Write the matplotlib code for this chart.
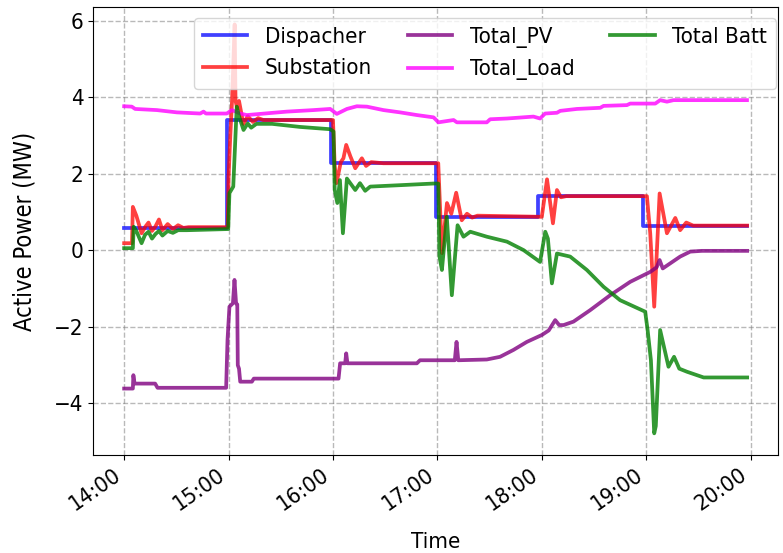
import pandas as pd
import matplotlib
matplotlib.use("Agg")
import matplotlib.pyplot as plt
import matplotlib.dates as mdates

# minutes after 14:00 and power values (MW)
disp_t = [0, 59, 119, 179, 238, 298, 358]
disp_v = [0.58, 3.40, 2.27, 0.87, 1.41, 0.64, 0.64]

sub_t = [0, 4.5, 5, 7, 10, 12, 14, 16, 18, 20, 22, 25, 28, 31, 34, 37, 59.5, 60, 61, 62,
         63.5, 64, 65, 66, 68.5, 71, 74, 77, 80, 120, 121, 122, 124.5, 126, 127.6, 130, 132.8,
         136.6, 139, 142, 149, 180.5, 182.6, 185.5, 188, 190.8, 194, 197, 200, 203, 240, 243,
         246.4, 248.7, 251, 254, 300.4, 302.3, 304.6, 307.7, 311.9, 316.7, 319.5, 323, 327, 358]
sub_v = [0.18, 0.18, 1.13, 0.9, 0.44, 0.6, 0.72, 0.5, 0.62, 0.8, 0.52, 0.68, 0.55, 0.65, 0.58, 0.6, 0.6, 1.9, 3.0, 3.9,
         5.9, 3.9, 3.7, 3.9, 3.3, 3.5, 3.35, 3.45, 3.4, 3.4, 2.2, 1.75, 2.3, 2.4, 2.75, 2.45, 2.14,
         2.4, 2.2, 2.3, 2.27, 2.27, -0.08, 1.23, 0.95, 1.5, 0.78, 0.95, 0.85, 0.9, 0.87, 1.85,
         0.70, 1.57, 1.38, 1.41, 1.41, 0.44, -1.48, 1.48, 0.44, 0.84, 0.52, 0.72, 0.64, 0.64]

pv_t = [0, 5, 5.3, 6, 17.8, 19.2, 58.6, 59.4, 60.5, 62.5, 63.4, 64.3, 65, 65.3, 66, 66.7, 73.4, 74.5,
        123.2, 124.1, 127, 127.6, 128.3, 168.2, 170, 190, 191, 192, 208.4, 216, 223.7, 231.4, 240,
        244, 247.7, 250, 252.5, 258.2, 267.8, 279.3, 290.8, 302.3, 306, 307.7, 309.5, 319.5, 325.3,
        332, 358]
pv_v = [-3.62, -3.62, -3.27, -3.49, -3.49, -3.60, -3.60, -2.35, -1.48, -1.39, -0.78, -1.39, -1.42, -3.01, -3.1, -3.44, -3.44, -3.36,
        -3.36, -2.96, -2.96, -2.70, -2.96, -2.96, -2.88, -2.88, -2.40, -2.88, -2.86, -2.79, -2.61, -2.40, -2.22,
        -2.1, -1.83, -1.96, -1.96, -1.87, -1.57, -1.18, -0.83, -0.57, -0.45, -0.26, -0.48, -0.17, -0.04,
        -0.02, -0.02]

load_t = [0, 4.4, 6.3, 18.8, 30.3, 43.7, 45.6, 47, 59, 61.9, 66.7, 70.5, 85.8, 93.5, 108.8, 118.4, 122.2,
          128, 133.7, 139.5, 149, 158.6, 168.2, 177.8, 180.6, 189.3, 191.2, 208.4, 210.3, 220, 235.2,
          239, 241.9, 248.7, 250.6, 260.2, 273.6, 275.5, 288.9, 290.8, 305.2, 308, 311.9, 315.7, 357.9]
load_v = [3.76, 3.75, 3.69, 3.66, 3.60, 3.57, 3.62, 3.57, 3.57, 3.66, 3.57, 3.53, 3.59, 3.62, 3.66, 3.69, 3.56,
          3.69, 3.76, 3.75, 3.66, 3.60, 3.53, 3.47, 3.34, 3.40, 3.34, 3.34, 3.42, 3.44, 3.49,
          3.44, 3.57, 3.59, 3.64, 3.69, 3.72, 3.77, 3.79, 3.83, 3.83, 3.92, 3.88, 3.92, 3.92]

batt_t = [0, 5, 5.5, 7, 10, 12, 14, 16, 18, 20, 22, 25, 28, 31, 36, 59.8, 60.5, 62.7, 64.7, 66, 68.6,
          71, 73, 76, 85, 101, 118.4, 120.3, 121, 122.5, 124, 125.7, 128, 132.8, 135.5, 138.5, 141.4,
          160, 177.8, 180.5, 181.2, 182.6, 185.4, 188.3, 191.6, 195, 198.9, 208.4, 220, 229.5, 239,
          242, 243.5, 245.8, 248.7, 256.3, 265.9, 275.5, 285, 299.4, 300.8, 302.7, 304.6, 305.5, 308,
          312.8, 316, 319, 323.4, 333, 358]
batt_v = [0.05, 0.05, 0.61, 0.5, 0.18, 0.4, 0.48, 0.3, 0.42, 0.5, 0.38, 0.5, 0.45, 0.52, 0.52, 0.55, 1.49, 1.66, 3.75, 3.5, 3.14,
          3.31, 3.2, 3.3, 3.3, 3.22, 3.16, 3.1, 1.57, 1.23, 1.83, 0.44, 1.87, 1.57, 1.75, 1.55, 1.66,
          1.70, 1.74, 1.74, -0.17, -0.52, 0.87, -1.18, 0.65, 0.35, 0.48, 0.35, 0.22, 0.0, -0.31,
          0.48, 0.3, -0.87, -0.09, -0.17, -0.52, -0.96, -1.31, -1.61, -2.09, -2.88, -4.79, -4.6, -2.09,
          -3.05, -2.79, -3.1, -3.18, -3.33, -3.33]

base = pd.Timestamp("2023-01-01 14:00")


def to_time(minutes):
    return base + pd.to_timedelta(minutes, unit="min")


# the reference text looks squeezed sideways, so use the condensed DejaVu face
plt.rcParams["font.family"] = "DejaVu Sans"
plt.rcParams["font.stretch"] = "condensed"
plt.rcParams["font.size"] = 16

fig, ax = plt.subplots(figsize=(7.83, 5.53), dpi=100)
fig.subplots_adjust(left=0.119, right=0.994, top=0.987, bottom=0.177)

ax.plot(to_time(disp_t), disp_v, color="blue", alpha=0.75, linewidth=2.7, drawstyle="steps-post", label="Dispacher")
ax.plot(to_time(sub_t), sub_v, color="red", alpha=0.75, linewidth=2.7, label="Substation")
ax.plot(to_time(pv_t), pv_v, color="purple", alpha=0.8, linewidth=2.7, label="Total_PV")
ax.plot(to_time(load_t), load_v, color="magenta", alpha=0.8, linewidth=2.7, label="Total_Load")
ax.plot(to_time(batt_t), batt_v, color="green", alpha=0.8, linewidth=2.7, label="Total Batt")

ax.set_xlim(to_time(-17.8), to_time(375.9))
ax.set_ylim(-5.36, 6.35)
ax.xaxis.set_major_locator(mdates.HourLocator())
ax.xaxis.set_major_formatter(mdates.DateFormatter("%H:%M"))
for lbl in ax.get_xticklabels():
    lbl.set_rotation(35)
    lbl.set_ha("right")

ax.grid(True, linestyle="--", color="gray", alpha=0.55, linewidth=1)
ax.set_xlabel("Time")
ax.set_ylabel("Active Power (MW)", fontsize=17)
ax.xaxis.set_label_coords(0.5, -0.172)
ax.yaxis.set_label_coords(-0.083, 0.5)
ax.legend(loc="upper right", bbox_to_anchor=(1.0, 0.98), borderaxespad=0.1, ncol=3, fontsize=16,
          columnspacing=1.6)

fig.savefig("out.png", dpi=100)
